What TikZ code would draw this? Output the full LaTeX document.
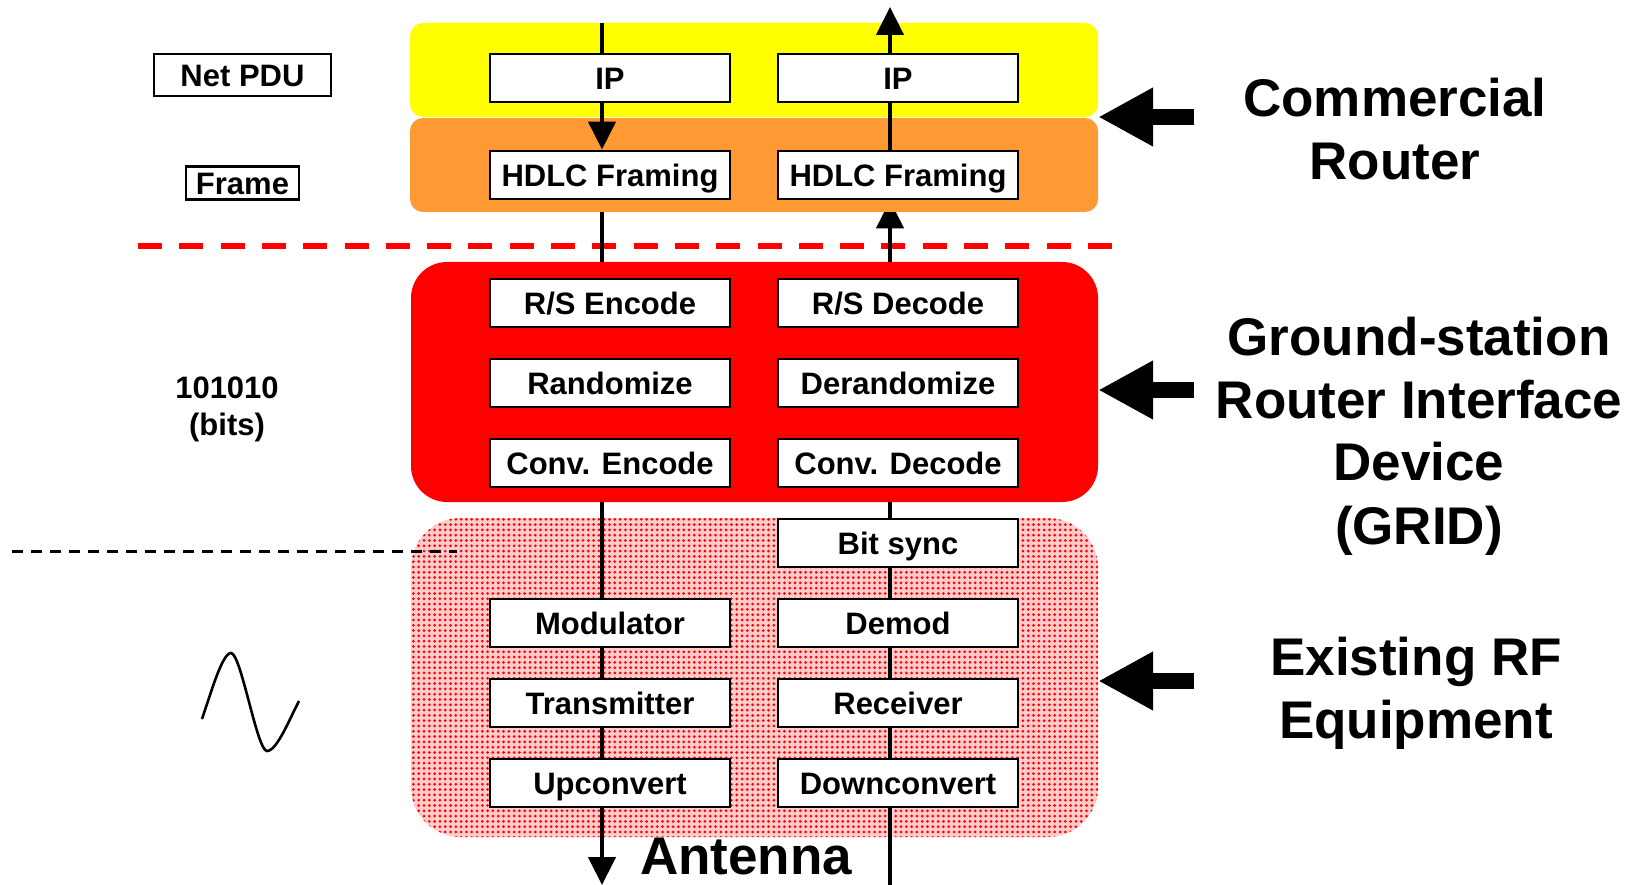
\documentclass[tikz,border=0pt]{standalone}
\usepackage{fontspec}
\setmainfont{Liberation Sans}
\usetikzlibrary{arrows.meta,patterns.meta}
\pgfdeclarelayer{bg}
\pgfdeclarelayer{pinkl}
\pgfdeclarelayer{under}
\pgfdeclarelayer{bands}
\pgfsetlayers{bg,pinkl,under,bands,main}
\definecolor{bandyellow}{RGB}{255,255,0}
\definecolor{bandorange}{RGB}{255,153,51}
\definecolor{bandred}{RGB}{255,0,0}
\newcommand\linesc[1]{\begin{tabular}[t]{@{}c@{}}#1\end{tabular}}

\begin{document}
\begin{tikzpicture}[x=1pt,y=-1pt,
  proc/.style={draw, line width=2.8pt, fill=white, minimum width=240pt,
    minimum height=48pt, inner sep=0pt, text height=22.3pt, text depth=0pt,
    font=\fontsize{31}{37}\selectfont\bfseries},
  lbl/.style={draw, line width=2.7pt, inner sep=0pt, text height=22.3pt,
    text depth=0pt, font=\fontsize{31}{37}\selectfont\bfseries},
  band/.style={inner sep=0pt, draw=none},
  flow/.style={line width=4.5pt},
  headarrow/.style={-{Triangle[length=28pt,width=27pt]}},
  bigarrow/.style={line width=16pt, -{Triangle[length=55pt,width=55pt]}},
  sidetext/.style={font=\fontsize{53}{63}\selectfont\bfseries, inner sep=0pt, anchor=base},
]
\useasboundingbox (0,0) rectangle (1641,885);
\begin{pgfonlayer}{bg}
  \fill[white] (0,0) rectangle (1641,885);
\end{pgfonlayer}

% layer bands
\begin{pgfonlayer}{pinkl}
  \node[band, rounded corners=50pt, minimum width=687pt, minimum height=319pt,
    preaction={fill=red!20}, pattern={Dots[distance=5.3pt,radius=1.5pt]},
    pattern color=red] (pink) at (754.5,677.5) {};
\end{pgfonlayer}
\begin{pgfonlayer}{bands}
  \node[band, fill=bandyellow, rounded corners=13pt, minimum width=688pt,
    minimum height=94pt] (yband) at (754,70) {};
  \node[band, fill=bandorange, rounded corners=13pt, minimum width=688pt,
    minimum height=94pt] (oband) at (754,165) {};
  \node[band, fill=bandred, rounded corners=36pt, minimum width=687pt,
    minimum height=240pt] (red) at (754.5,382) {};
\end{pgfonlayer}

% transmit column
\node[proc] (IPl) at (610,78) {IP};
\node[proc] (HDl) at (610,175) {HDLC Framing};
\node[proc] (RSl) at (610,303) {R/S Encode};
\node[proc] (RNl) at (610,383) {Randomize};
\node[proc] (CEl) at (610,463) {Conv. Encode};
\node[proc] (MOl) at (610,623) {Modulator};
\node[proc] (TXl) at (610,703) {Transmitter};
\node[proc] (UPl) at (610,783) {Upconvert};

% receive column
\node[proc] (IPr) at (898,78) {IP};
\node[proc] (HDr) at (898,175) {HDLC Framing};
\node[proc] (RSr) at (898,303) {R/S Decode};
\node[proc] (DRr) at (898,383) {Derandomize};
\node[proc] (CDr) at (898,463) {Conv. Decode};
\node[proc] (BSr) at (898,543) {Bit sync};
\node[proc] (DMr) at (898,623) {Demod};
\node[proc] (RXr) at (898,703) {Receiver};
\node[proc] (DNr) at (898,783) {Downconvert};

\coordinate (cl) at (602,0);
\coordinate (cr) at (890,0);
\coordinate (antl) at (602,885);
\coordinate (antr) at (890,885);
\coordinate (outr) at (890,7);

% boundary lines
\begin{pgfonlayer}{under}
  \coordinate (rdl) at (138,246);
  \coordinate (rdr) at (1115,246);
  \draw[bandred, line width=6pt, dash pattern=on 24pt off 17.3pt] (rdl) -- (rdr);
  \draw[flow] (HDl.south -| cl) -- (RSl.north -| cl);
  \draw[flow] (CEl.south -| cl) -- (MOl.north -| cl);
  \draw[flow, headarrow] (RSr.north -| cr) -- (HDr.south -| cr);
  \draw[flow] (BSr.north -| cr) -- (CDr.south -| cr);
\end{pgfonlayer}
\coordinate (bdl) at (12,551);
\coordinate (bdr) at (457,551);
\draw[line width=3pt, dash pattern=on 11pt off 8pt] (bdl) -- (bdr);

% transmit flow
\draw[flow] (yband.north -| cl) -- (IPl.north -| cl);
\draw[flow, headarrow] (IPl.south -| cl) -- (HDl.north -| cl);
\draw[flow] (MOl.south -| cl) -- (TXl.north -| cl);
\draw[flow] (TXl.south -| cl) -- (UPl.north -| cl);
\draw[flow, headarrow] (UPl.south -| cl) -- (antl);

% receive flow
\draw[flow] (antr) -- (DNr.south -| cr);
\draw[flow] (DNr.north -| cr) -- (RXr.south -| cr);
\draw[flow] (RXr.north -| cr) -- (DMr.south -| cr);
\draw[flow] (DMr.north -| cr) -- (BSr.south -| cr);
\draw[flow] (HDr.north -| cr) -- (IPr.south -| cr);
\draw[flow, headarrow] (IPr.north -| cr) -- (outr);

% left-hand annotations
\node[lbl, minimum width=177pt, minimum height=42pt] (pdu) at (242.5,75) {Net PDU};
\node[lbl, minimum width=113pt, minimum height=33pt] (frame) at (242.5,183) {Frame};
\node[font=\fontsize{31}{37}\selectfont\bfseries, inner sep=0pt, anchor=base]
  (bits) at (227,398) {\linesc{101010\\(bits)}};
\draw[line width=2.6pt] (202,719) .. controls (210,696) and (222,653) .. (231,653)
  .. controls (241,653) and (257,751) .. (267,751)
  .. controls (277,751) and (290,718) .. (299,701);

% antenna label
\node[sidetext, anchor=base west] (ant) at (640,874) {Antenna};

% right-hand labels and pointers
\node[sidetext] (cr1) at (1395,117) {\linesc{Commercial\\Router}};
\node[sidetext] (gr1) at (1419,355) {\linesc{Ground-station\\Router Interface\\Device\\(GRID)}};
\node[sidetext] (rf1) at (1416,675) {\linesc{Existing RF\\Equipment}};

\coordinate (a1) at (1194,117);
\coordinate (a2) at (1194,390);
\coordinate (a3) at (1194,681);
\draw[bigarrow] (a1) -- (a1 -| yband.east);
\draw[bigarrow] (a2) -- (a2 -| red.east);
\draw[bigarrow] (a3) -- (a3 -| pink.east);
\end{tikzpicture}
\end{document}
